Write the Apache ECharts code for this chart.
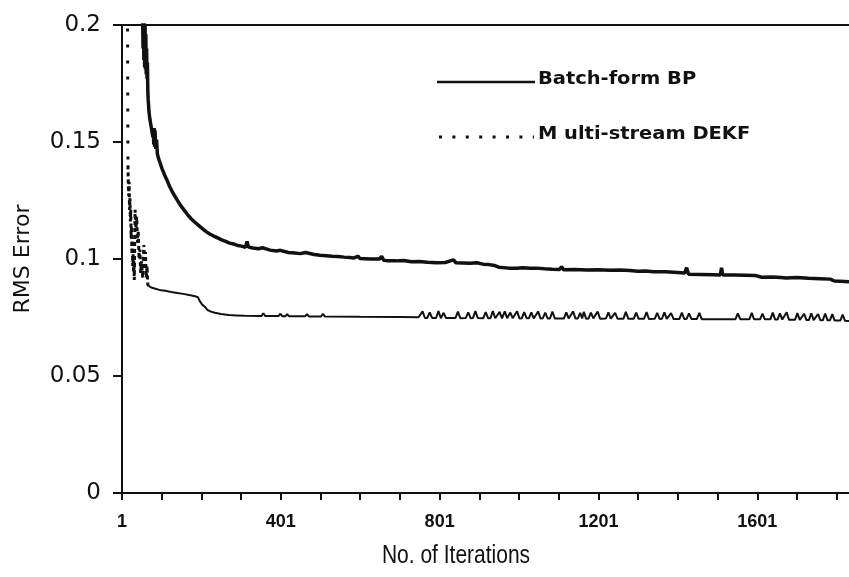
<!DOCTYPE html>
<html>
<head>
<meta charset="utf-8">
<script src="https://cdn.jsdelivr.net/npm/echarts@6/dist/echarts.min.js"></script>
<style>
  html, body { margin: 0; padding: 0; background: #ffffff; }
  #chart { width: 849px; height: 577px; }
</style>
</head>
<body>
<div id="chart"></div>
<script>
// Training curves: RMS error against iteration count for two training schemes.
const seriesNames = ['Batch-form BP', 'M ulti-stream DEKF'];
const xTickLabels = [1, 401, 801, 1201, 1601];
const xTitle = 'No. of Iterations';
const yTitle = 'RMS Error';

// [iteration, RMS error]
const batchBP = [
  [52, 0.215], [54, 0.19], [55, 0.208], [56, 0.185], [57, 0.204], [58, 0.182],
  [59, 0.2], [60, 0.181], [61, 0.196], [62, 0.179], [63, 0.19], [64, 0.177],
  [65, 0.184], [66, 0.172], [67, 0.168], [69, 0.163], [71, 0.16], [73, 0.158],
  [75, 0.156], [77, 0.154], [79, 0.152], [80, 0.155], [81, 0.149], [82, 0.156],
  [83, 0.148], [84, 0.155], [86, 0.147], [88, 0.151], [90, 0.145], [93, 0.143],
  [97, 0.141], [102, 0.1385], [108, 0.136], [114, 0.1338], [121, 0.131], [130, 0.128],
  [139, 0.1255], [148, 0.123], [157, 0.121], [166, 0.119], [175, 0.1172], [184, 0.1158],
  [193, 0.1145], [202, 0.1132], [212, 0.1118], [222, 0.1107], [232, 0.1098], [242, 0.109],
  [252, 0.1082], [262, 0.1075], [272, 0.1068], [282, 0.1064], [292, 0.1058], [302, 0.1055],
  [312, 0.105], [316, 0.1075], [319, 0.1052], [330, 0.1047], [345, 0.1044], [355, 0.1048],
  [360, 0.104], [374, 0.1038], [390, 0.1034], [400, 0.1037], [405, 0.103], [420, 0.1028],
  [436, 0.1026], [450, 0.1023], [463, 0.1028], [468, 0.102], [485, 0.1019], [500, 0.1016],
  [515, 0.1014], [530, 0.1012], [545, 0.1011], [560, 0.1008], [575, 0.1006], [584, 0.1004],
  [596, 0.1012], [600, 0.1002], [626, 0.1], [650, 0.1], [655, 0.1012], [660, 0.0995],
  [668, 0.0993], [690, 0.0992], [710, 0.0994], [730, 0.0988], [750, 0.0989], [770, 0.0986],
  [794, 0.0984], [815, 0.0985], [836, 0.0996], [842, 0.0984], [860, 0.0983], [878, 0.0982],
  [895, 0.0984], [910, 0.0978], [925, 0.0976], [940, 0.0972], [950, 0.0965], [955, 0.0959],
  [975, 0.0961], [995, 0.096], [1010, 0.0963], [1030, 0.096], [1046, 0.0961], [1065, 0.0958],
  [1085, 0.0956], [1103, 0.0955], [1108, 0.0967], [1113, 0.0954], [1140, 0.0955], [1172, 0.0953],
  [1200, 0.0954], [1230, 0.0952], [1255, 0.0953], [1280, 0.0951], [1300, 0.0948], [1320, 0.0949],
  [1339, 0.0946], [1370, 0.0945], [1400, 0.0942], [1418, 0.094], [1423, 0.0963], [1428, 0.0935],
  [1460, 0.0934], [1490, 0.0933], [1508, 0.0932], [1511, 0.0962], [1514, 0.0932], [1545, 0.0932],
  [1570, 0.0931], [1595, 0.093], [1612, 0.0922], [1640, 0.0923], [1660, 0.0921], [1675, 0.0919],
  [1700, 0.0921], [1730, 0.0918], [1759, 0.0916], [1785, 0.0914], [1795, 0.0906], [1810, 0.0905],
  [1832, 0.0903]
];

// [iteration, RMS error]
const dekf = [
  [14, 0.26], [16, 0.14], [17, 0.131], [18, 0.127], [19, 0.133], [20, 0.121],
  [21, 0.126], [22, 0.116], [23, 0.121], [24, 0.109], [25, 0.114], [26, 0.102],
  [27, 0.108], [28, 0.097], [29, 0.102], [30, 0.094], [31, 0.099], [32, 0.091],
  [34, 0.121], [36, 0.113], [38, 0.118], [40, 0.107], [42, 0.112], [44, 0.1],
  [46, 0.104], [48, 0.094], [50, 0.099], [53, 0.092], [56, 0.106], [58, 0.097],
  [60, 0.103], [62, 0.092], [64, 0.097], [66, 0.089], [68, 0.0885],
  [75, 0.0878], [85, 0.0873], [95, 0.0868], [110, 0.0864], [125, 0.0859], [140, 0.0855],
  [155, 0.0851], [170, 0.0846], [185, 0.0841], [192, 0.0837], [197, 0.082], [203, 0.0805],
  [210, 0.0795], [216, 0.0783], [225, 0.0775], [235, 0.077], [250, 0.0765], [270, 0.0761],
  [290, 0.0759], [310, 0.0757],
  [352, 0.0756], [357, 0.0768], [362, 0.0756], [395, 0.0756], [400, 0.0766], [405, 0.0755],
  [412, 0.0755], [417, 0.0764], [422, 0.0755], [462, 0.0755], [467, 0.0764], [472, 0.0754],
  [502, 0.0754], [507, 0.0766], [512, 0.0754], [600, 0.0753], [700, 0.0752], [748, 0.0751],
  [752, 0.0749], [758, 0.0776], [764, 0.0748], [770, 0.0748], [776, 0.0772], [782, 0.0748],
  [792, 0.0748], [798, 0.0778], [804, 0.0747], [806, 0.0748], [811, 0.077], [817, 0.0748],
  [841, 0.0748], [847, 0.0775], [853, 0.0747], [867, 0.0748], [873, 0.0772], [879, 0.0747],
  [885, 0.0748], [891, 0.0777], [897, 0.0748], [911, 0.0747], [917, 0.0773], [923, 0.0747],
  [929, 0.0747], [935, 0.0778], [941, 0.0747], [946, 0.0747], [952, 0.0774], [958, 0.0746],
  [960, 0.0747], [965, 0.0776], [971, 0.0747], [973, 0.0747], [979, 0.0771], [985, 0.0747],
  [990, 0.0747], [996, 0.0777], [1002, 0.0746], [1008, 0.0747], [1014, 0.0773], [1020, 0.0747],
  [1026, 0.0747], [1032, 0.0772], [1038, 0.0746], [1043, 0.0747], [1049, 0.0776], [1055, 0.0746],
  [1061, 0.0747], [1067, 0.0771], [1073, 0.0746], [1079, 0.0746], [1085, 0.0775], [1091, 0.0746],
  [1105, 0.0746], [1114, 0.0746], [1120, 0.0772], [1126, 0.0746], [1131, 0.0746], [1137, 0.0776],
  [1143, 0.0746], [1149, 0.0746], [1155, 0.077], [1160, 0.0746], [1164, 0.0774], [1170, 0.0745],
  [1176, 0.0746], [1182, 0.0771], [1188, 0.0746], [1193, 0.0746], [1199, 0.0775], [1205, 0.0745],
  [1220, 0.0746], [1226, 0.0772], [1232, 0.0745], [1237, 0.0745], [1243, 0.077], [1249, 0.0745],
  [1264, 0.0745], [1270, 0.0774], [1276, 0.0745], [1290, 0.0745], [1296, 0.0771], [1302, 0.0745],
  [1316, 0.0745], [1322, 0.0773], [1328, 0.0744], [1343, 0.0745], [1349, 0.077], [1355, 0.0744],
  [1361, 0.0745], [1367, 0.0772], [1373, 0.0744], [1378, 0.0744], [1384, 0.0769], [1390, 0.0744],
  [1405, 0.0744], [1411, 0.0771], [1417, 0.0744], [1423, 0.0744], [1429, 0.0768], [1435, 0.0744],
  [1449, 0.0744], [1455, 0.077], [1461, 0.0743], [1500, 0.0743], [1540, 0.0743],
  [1546, 0.0743], [1552, 0.0768], [1558, 0.0743], [1581, 0.0742], [1587, 0.077], [1593, 0.0742],
  [1608, 0.0742], [1614, 0.0767], [1620, 0.0742], [1634, 0.0742], [1640, 0.0771], [1646, 0.0741],
  [1652, 0.0741], [1658, 0.0768], [1664, 0.0741], [1669, 0.0741], [1675, 0.0772], [1681, 0.074],
  [1696, 0.074], [1702, 0.0769], [1708, 0.074], [1713, 0.074], [1719, 0.0766], [1725, 0.0739],
  [1731, 0.0739], [1737, 0.0768], [1743, 0.0739], [1748, 0.0739], [1754, 0.0765], [1760, 0.0738],
  [1766, 0.0738], [1772, 0.0767], [1778, 0.0738], [1784, 0.0738], [1790, 0.0764], [1796, 0.0737],
  [1810, 0.0737], [1816, 0.0762], [1822, 0.0736], [1832, 0.0735]
];

// The DEKF trace is drawn in three stretches: the long first drop shows its dots
// widely spaced, the jittery settling part packs them densely, and the settled
// part reads as a thin continuous line.
const dekfDropEnd = 16;
const dekfSettleEnd = 68;
const dekfDrop = dekf.filter(p => p[0] <= dekfDropEnd);
const dekfSettle = dekf.filter(p => p[0] >= dekfDropEnd && p[0] <= dekfSettleEnd);
const dekfTail = dekf.filter(p => p[0] >= dekfSettleEnd);

const ink = '#111111';
const chart = echarts.init(document.getElementById('chart'), null, { renderer: 'canvas' });

const axisLineStyle = { color: ink, width: 2 };

function dekfSeries(data, lineStyle) {
  return {
    name: seriesNames[1],
    type: 'line',
    data: data,
    showSymbol: false,
    symbol: 'none',
    clip: true,
    lineStyle: Object.assign({ color: ink }, lineStyle)
  };
}

chart.setOption({
  animation: false,
  backgroundColor: '#ffffff',
  grid: { left: 122, right: 0, top: 25, bottom: 84 },
  xAxis: [
    {
      type: 'value',
      min: 1,
      max: 1832,
      interval: 100,
      axisLine: { show: true, lineStyle: axisLineStyle },
      axisTick: { show: true, inside: false, length: 7, lineStyle: { color: ink, width: 2 } },
      axisLabel: {
        margin: 20,
        showMaxLabel: false,
        color: ink,
        fontFamily: '"Liberation Sans", Arial, sans-serif',
        fontWeight: 'bold',
        fontSize: 18,
        formatter: v => (xTickLabels.indexOf(Math.round(v)) >= 0 ? String(Math.round(v)) : '')
      },
      splitLine: { show: false }
    },
    {
      type: 'value',
      position: 'top',
      min: 1,
      max: 1832,
      axisLine: { show: true, lineStyle: axisLineStyle },
      axisTick: { show: false },
      axisLabel: { show: false },
      splitLine: { show: false }
    }
  ],
  yAxis: {
    type: 'value',
    min: 0,
    max: 0.2,
    interval: 0.05,
    axisLine: { show: true, lineStyle: axisLineStyle },
    axisTick: { show: true, inside: false, length: 9, lineStyle: { color: ink, width: 2 } },
    axisLabel: {
      margin: 21,
      color: ink,
      fontFamily: '"DejaVu Sans", sans-serif',
      fontSize: 23
    },
    splitLine: { show: false }
  },
  series: [
    {
      name: seriesNames[0],
      type: 'line',
      data: batchBP,
      showSymbol: false,
      symbol: 'none',
      clip: true,
      lineStyle: { color: ink, width: 3.5 }
    },
    dekfSeries(dekfDrop, { width: 3, type: [3, 13] }),
    dekfSeries(dekfSettle, { width: 3, type: [4, 3] }),
    dekfSeries(dekfTail, { width: 2 })
  ],
  graphic: [
    {
      type: 'line',
      shape: { x1: 437, y1: 82, x2: 535, y2: 82 },
      style: { stroke: ink, lineWidth: 2.5 }
    },
    {
      type: 'text',
      x: 538, y: 79,
      scaleX: 1.08,
      style: {
        text: seriesNames[0], fill: ink,
        fontFamily: '"DejaVu Sans", sans-serif', fontWeight: 'bold', fontSize: 18,
        verticalAlign: 'middle', align: 'left'
      }
    },
    {
      type: 'line',
      shape: { x1: 439, y1: 137, x2: 534, y2: 137 },
      style: { stroke: ink, lineWidth: 3, lineDash: [3, 10.4] }
    },
    {
      type: 'text',
      x: 538, y: 134,
      scaleX: 1.08,
      style: {
        text: seriesNames[1], fill: ink,
        fontFamily: '"DejaVu Sans", sans-serif', fontWeight: 'bold', fontSize: 18,
        verticalAlign: 'middle', align: 'left'
      }
    },
    {
      type: 'text',
      x: 456, y: 556,
      scaleX: 0.84,
      style: {
        text: xTitle, fill: ink,
        fontFamily: '"Liberation Sans", Arial, sans-serif', fontSize: 25,
        verticalAlign: 'middle', align: 'center'
      }
    },
    {
      type: 'text',
      x: 23, y: 259,
      rotation: Math.PI / 2,
      style: {
        text: yTitle, fill: ink,
        fontFamily: '"DejaVu Sans", sans-serif', fontSize: 22,
        verticalAlign: 'middle', align: 'center'
      }
    }
  ]
});
</script>
</body>
</html>
